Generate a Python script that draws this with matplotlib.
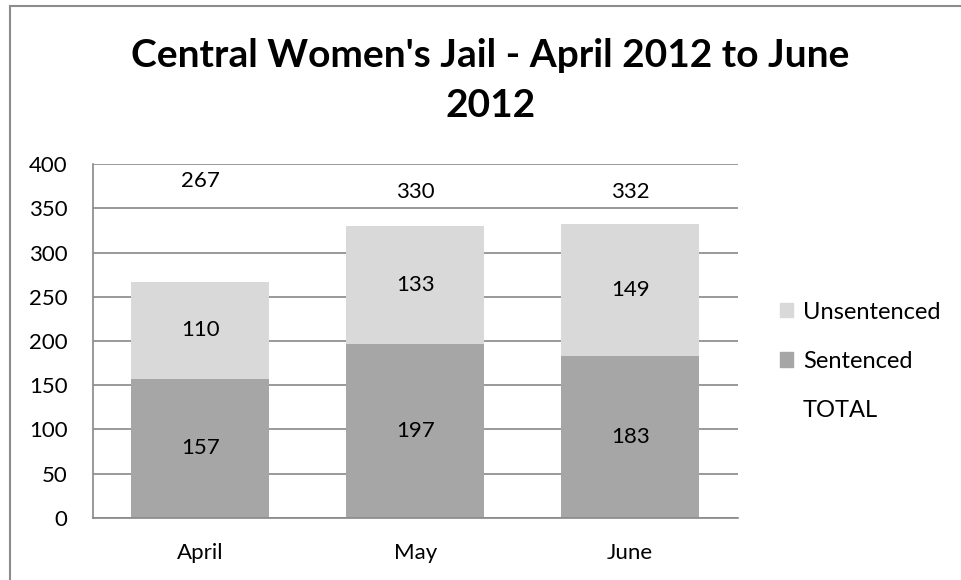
import matplotlib.pyplot as plt
from matplotlib.patches import Patch, Rectangle

# Monthly counts, Central Women's Jail
months = ['April', 'May', 'June']
sentenced = [157, 197, 183]
unsentenced = [110, 133, 149]
totals = [s + u for s, u in zip(sentenced, unsentenced)]

light = '#D9D9D9'
dark = '#A6A6A6'
grid_col = '#888888'

plt.rcParams['font.family'] = ['Lato', 'DejaVu Sans']

fig = plt.figure(figsize=(9.61, 5.8), dpi=100)
ax = fig.add_axes([0.0965, 0.1074, 0.671, 0.6093])

x = range(len(months))
w = 0.642
ax.bar(x, sentenced, w, color=dark, zorder=2)
ax.bar(x, unsentenced, w, bottom=sentenced, color=light, zorder=2)

fs = 16
# segment labels
for i in x:
    ax.text(i, sentenced[i] / 2, str(sentenced[i]), ha='center', va='center', fontsize=fs)
    ax.text(i, sentenced[i] + unsentenced[i] / 2, str(unsentenced[i]),
            ha='center', va='center', fontsize=fs)
    # TOTAL series labels sit near the top of the plot
    ax.text(i, 381 - (totals[i] - totals[0]) * 0.19, str(totals[i]),
            ha='center', va='center', fontsize=fs)

ax.set_xlim(-0.5, 2.5)
ax.set_ylim(0, 400)
ax.set_yticks(range(0, 401, 50))
ax.set_xticks(list(x))
ax.set_xticklabels(months)
ax.tick_params(axis='both', length=0, labelsize=fs)
ax.tick_params(axis='y', pad=18)
ax.tick_params(axis='x', pad=18)
ax.grid(axis='y', color=grid_col, linewidth=1.2, zorder=0)
for side in ['top', 'right']:
    ax.spines[side].set_visible(False)
for side in ['left', 'bottom']:
    ax.spines[side].set_color(grid_col)
    ax.spines[side].set_linewidth(1.2)

handles = [Patch(color=light), Patch(color=dark), Patch(facecolor='none', edgecolor='none')]
fig.legend(handles, ['Unsentenced', 'Sentenced', 'TOTAL'], loc='upper left',
           bbox_to_anchor=(0.8117, 0.48), frameon=False, fontsize=17,
           borderpad=0, borderaxespad=0,
           handlelength=0.55, handleheight=0.55, handletextpad=0.42, labelspacing=1.2)

fig.text(0.51, 0.905, "Central Women's Jail - April 2012 to June", ha='center', va='center',
         fontsize=28, fontweight='bold')
fig.text(0.51, 0.818, "2012", ha='center', va='center', fontsize=28, fontweight='bold')

# chart border
fig.add_artist(Rectangle((10 / 961, -0.05), 1.0, 1.0 - 6 / 580 + 0.05, transform=fig.transFigure,
                         fill=False, edgecolor='#8c8c8c', linewidth=1.5))

plt.savefig('out.png', dpi=100)
